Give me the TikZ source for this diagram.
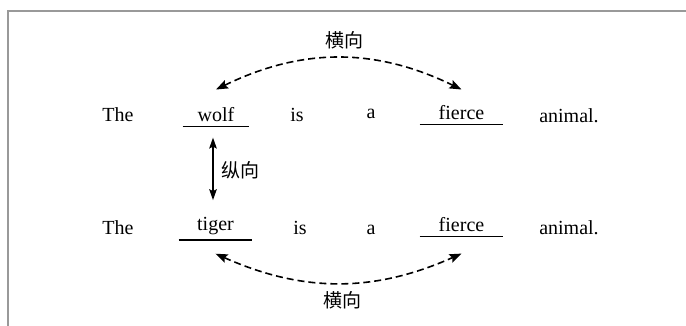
\documentclass[tikz,border=0pt]{standalone}
\usepackage{fontspec}
\setmainfont{Liberation Serif}
\newfontfamily\cjk{Noto Sans CJK SC}
\usetikzlibrary{arrows.meta}

\tikzset{
  word/.style={anchor=base,inner sep=2pt},
  blank/.style={word,minimum width=#1,
    append after command={(\tikzlastnode.south west) edge[line width=.8pt] (\tikzlastnode.south east)}},
  heng/.style={dash pattern=on 3.5pt off 2pt,line width=.8pt,
    {Stealth[length=6pt,width=4.5pt,inset=1pt]}-{Stealth[length=6pt,width=4.5pt,inset=1pt]}},
  zong/.style={line width=.7pt,
    {Stealth[length=5.5pt,width=3.8pt,inset=1pt]}-{Stealth[length=5.5pt,width=3.8pt,inset=1pt]}},
  zh/.style={font=\cjk\fontsize{9.5}{11}\selectfont,inner sep=1pt}
}

\begin{document}
\begin{tikzpicture}[x=.5pt,y=.5pt]
\useasboundingbox (0,0) rectangle (686,326);
\draw[black!40,line width=1.2pt] (8,0) -- (8,315) -- (686,315);

% first sentence
\node[word] (the1) at (118,204) {The};
\node[blank=33pt] (wolf) at (216,204) {wolf};
\node[word] (is1) at (297,204) {is};
\node[word] (a1) at (371,207) {a};
\node[blank=41.5pt] (fierce1) at (461.5,206) {fierce};
\node[word] (animal1) at (569,203) {animal.};

% second sentence
\node[word] (the2) at (118,91) {The};
\node[blank=36.5pt] (tiger) at (215.5,95) {tiger};
\node[word] (is2) at (300,91) {is};
\node[word] (a2) at (371,91) {a};
\node[blank=41.5pt] (fierce2) at (461.5,94) {fierce};
\node[word] (animal2) at (569,91) {animal.};

\draw[heng] ([yshift=7pt]wolf.north) to[bend left=26]
  node[zh,above=3pt,xshift=3pt] {横向} ([yshift=6pt]fierce1.north);
\draw[heng] ([yshift=-7pt]tiger.south) to[bend right=24]
  node[zh,below=3pt,xshift=2pt] {横向} ([yshift=-8.5pt]fierce2.south);
\draw[zong,shorten <=5.5pt,shorten >=6.6pt] ([xshift=-1.5pt]wolf.south)
  -- node[zh,right=3pt] {纵向} ([xshift=-1.5pt]wolf.south |- tiger.north);
\end{tikzpicture}
\end{document}
